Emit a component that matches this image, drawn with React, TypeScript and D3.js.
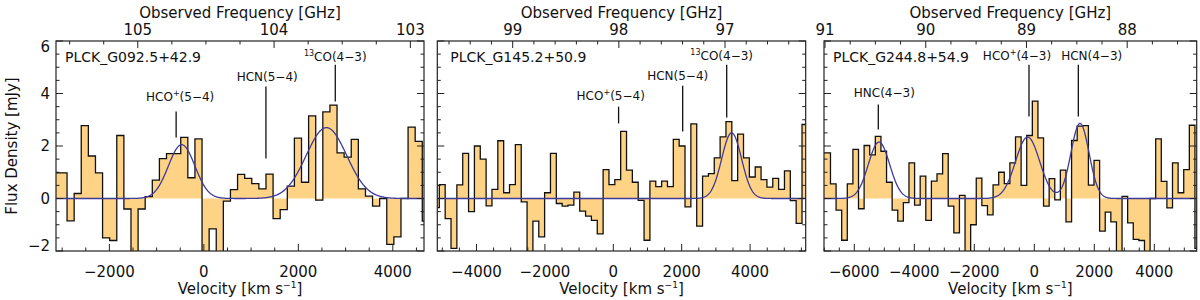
import { useEffect, useRef } from "react";
import * as d3 from "d3";

// channel flux densities (mJy), one per velocity bin, left to right
const g092Flux = [0.98, 0.98, -0.85, 0.19, 2.78, 1.62, 0.98, -1.5, -1.6, 2.4, -0.4, -2.6, -0.4, 0.07, 0.7, 1.52, 1.71, 1.71, 2.33, 0.79, 2.27, -2.6, -1.16, -2.6, -0.1, 0.34, 0.92, 0.77, 0.57, 0.37, 0.93, -0.77, -0.42, 0.47, 2.3, 0.62, 3.15, -0.06, 3.3, 3.56, 1.74, 1.58, 2.25, 0.37, 0.09, -0.29, 0.0, -1.75, -1.46, 0.0, 2.72, 2.18, -0.86];
const g092Start = -3197; // km/s, left edge of first bin
const g092Width = 150.4;

const g145Flux = [-0.35, 0.53, -0.77, -1.9, 0.52, 1.72, -0.5, 2.0, 1.5, -0.28, 0.35, 2.2, 0.22, 0.53, 2.05, -0.13, -2.3, -0.86, -1.46, 0.22, 1.72, -0.19, -0.29, -0.25, 0.24, -0.48, -0.67, -0.83, -1.35, 1.1, 0.53, 0.72, 2.56, 1.08, 0.62, -0.07, -1.59, 0.66, 0.45, 0.66, 0.45, 2.25, 2.0, -0.32, 2.84, -1.05, 0.85, 0.95, 1.55, 2.35, 2.93, 0.68, 2.45, 1.55, 0.82, 1.2, 0.72, 0.43, 0.77, 0.35, 1.05, -0.08, -0.95, 2.82];
const g145Start = -5258;
const g145Width = 171.05;

const g244Flux = [1.74, 1.74, 0.56, -0.44, -1.59, 0.56, 1.87, -0.39, 2.02, 1.66, 2.37, 1.8, 0.62, -0.44, -0.86, -0.16, 1.36, -0.25, 0.85, -0.83, 0.66, 0.94, 1.71, -0.29, -1.31, 0.12, -2.4, -1.0, 0.78, -0.27, -0.62, 0.52, 1.0, 0.57, 1.36, 2.35, 0.5, 2.4, 3.71, 2.31, -0.29, 0.76, -0.05, 1.08, -0.89, 2.21, 2.76, 2.78, 0.51, 1.45, -1.24, -0.52, -0.89, -2.4, 0.08, -0.93, -1.56, -1.6, -2.4, 0.0, 2.27, 0.65, -0.36, 1.36, 0.22, 1.1, 2.79, -1.9];
const g244Start = -7168;
const g244Width = 186.9;

const sourceNames = ["PLCK_G092.5+42.9", "PLCK_G145.2+50.9", "PLCK_G244.8+54.9"];
const velocityRanges = [[-3130, 4660], [-5146, 5626], [-7010, 5413]];
const frequencyRanges = [[105.6, 102.9], [99.71, 96.24], [91.01, 87.31]];
const fluxRange = [-2, 6];

// gaussian fits: [peak mJy, centre km/s, sigma km/s]
const g092Fit = [[2.05, -470, 280], [2.7, 2595, 430]];
const g145Fit = [[2.5, 3460, 290]];
const g244Fit = [[2.15, -5177, 354], [2.34, -223, 401], [2.86, 1523, 302]];

// line markers: label parts (text, superscript?), marker v, label v, label flux, marker top, marker bottom
type Marker = { label: [string, boolean][]; v: number; lv: number; ly: number; top: number; bot: number };
const g092Lines: Marker[] = [
  { label: [["HCO", false], ["+", true], ["(5\u22124)", false]], v: -587, lv: -502, ly: 3.7, top: 3.31, bot: 2.32 },
  { label: [["HCN(5\u22124)", false]], v: 1314, lv: 1341, ly: 4.46, top: 4.27, bot: 1.52 },
  { label: [["13", true], ["CO(4\u22123)", false]], v: 2782, lv: 2782, ly: 5.22, top: 5.1, bot: 3.7 },
];
const g145Lines: Marker[] = [
  { label: [["HCO", false], ["+", true], ["(5\u22124)", false]], v: 155, lv: -76, ly: 3.77, top: 3.5, bot: 2.86 },
  { label: [["HCN(5\u22124)", false]], v: 2029, lv: 1883, ly: 4.53, top: 4.3, bot: 2.55 },
  { label: [["13", true], ["CO(4\u22123)", false]], v: 3316, lv: 3170, ly: 5.26, top: 5.1, bot: 3.09 },
];
const g244Lines: Marker[] = [
  { label: [["HNC(4\u22123)", false]], v: -5200, lv: -5000, ly: 3.85, top: 3.58, bot: 2.63 },
  { label: [["HCO", false], ["+", true], ["(4\u22123)", false]], v: -177, lv: -577, ly: 5.26, top: 5.1, bot: 3.12 },
  { label: [["HCN(4\u22123)", false]], v: 1467, lv: 1913, ly: 5.26, top: 5.1, bot: 3.12 },
];

const FONT = "DejaVu Sans";
const FILL = "#ffd385";
const FIT = "#3d3a9a";
const TOP = 41;
const BOTTOM = 251;
const panelX = [[56, 424], [437.3, 805.7], [824, 1196.7]];
const freqMinor = [0.25, 0.2, 0.25];

const panels = [
  { flux: g092Flux, start: g092Start, width: g092Width, fit: g092Fit, lines: g092Lines },
  { flux: g145Flux, start: g145Start, width: g145Width, fit: g145Fit, lines: g145Lines },
  { flux: g244Flux, start: g244Start, width: g244Width, fit: g244Fit, lines: g244Lines },
];

const App = () => {
  const svgRef = useRef<SVGSVGElement>(null);

  useEffect(() => {
    const svg = d3.select(svgRef.current);
    svg.selectAll("*").remove();

    const y = d3.scaleLinear().domain(fluxRange).range([BOTTOM, TOP]);

    panels.forEach((p, k) => {
      const [left, right] = panelX[k];
      const x = d3.scaleLinear().domain(velocityRanges[k]).range([left, right]);
      const f = d3.scaleLinear().domain(frequencyRanges[k]).range([left, right]);

      const clipId = `clip${k}`;
      svg.append("clipPath").attr("id", clipId)
        .append("rect").attr("x", left).attr("y", TOP)
        .attr("width", right - left).attr("height", BOTTOM - TOP);

      const g = svg.append("g").attr("clip-path", `url(#${clipId})`);

      // step histogram points
      const pts: [number, number][] = [];
      p.flux.forEach((val, i) => {
        const a = p.start + i * p.width;
        pts.push([a, val], [a + p.width, val]);
      });

      g.append("path")
        .datum(pts)
        .attr("fill", FILL)
        .attr("d", d3.area<[number, number]>().x((d) => x(d[0])).y0(y(0)).y1((d) => y(d[1])));

      g.append("path")
        .datum(pts)
        .attr("fill", "none")
        .attr("stroke", "#111")
        .attr("stroke-width", 1.3)
        .attr("d", d3.line<[number, number]>().x((d) => x(d[0])).y((d) => y(d[1])));

      // gaussian model
      const vs = d3.range(velocityRanges[k][0], velocityRanges[k][1] + 10, 10);
      const model = (v: number) =>
        d3.sum(p.fit, ([a, c, s]) => a * Math.exp(-0.5 * ((v - c) / s) ** 2));
      g.append("path")
        .datum(vs)
        .attr("fill", "none")
        .attr("stroke", FIT)
        .attr("stroke-width", 1.3)
        .attr("d", d3.line<number>().x((v) => x(v)).y((v) => y(model(v))));

      // frame
      svg.append("rect")
        .attr("x", left).attr("y", TOP)
        .attr("width", right - left).attr("height", BOTTOM - TOP)
        .attr("fill", "none").attr("stroke", "#222").attr("stroke-width", 1.2);

      const ticks = svg.append("g").attr("stroke", "#222").attr("stroke-width", 1);
      const [v0, v1] = velocityRanges[k];
      // velocity ticks (bottom)
      d3.range(Math.ceil(v0 / 500) * 500, v1, 500).forEach((v) => {
        const len = v % 2000 === 0 ? 7 : 3.5;
        ticks.append("line").attr("x1", x(v)).attr("x2", x(v)).attr("y1", BOTTOM).attr("y2", BOTTOM - len);
      });
      // frequency ticks (top)
      const [fa, fb] = frequencyRanges[k];
      const step = freqMinor[k];
      d3.range(Math.ceil(fb / step) * step, fa, step).forEach((fr) => {
        const major = Math.abs(fr - Math.round(fr)) < 1e-6;
        ticks.append("line").attr("x1", f(fr)).attr("x2", f(fr)).attr("y1", TOP).attr("y2", TOP + (major ? 7 : 3.5));
      });
      // flux ticks (left and right)
      d3.range(fluxRange[0], fluxRange[1] + 0.01, 0.5).forEach((fl) => {
        const len = fl % 2 === 0 ? 7 : 3.5;
        ticks.append("line").attr("x1", left).attr("x2", left + len).attr("y1", y(fl)).attr("y2", y(fl));
        ticks.append("line").attr("x1", right).attr("x2", right - len).attr("y1", y(fl)).attr("y2", y(fl));
      });

      const text = svg.append("g").attr("font-family", FONT).attr("fill", "#111");

      // bottom tick labels
      d3.range(Math.ceil(v0 / 2000) * 2000, v1, 2000).forEach((v) => {
        text.append("text").attr("x", x(v)).attr("y", 277).attr("text-anchor", "middle")
          .attr("font-size", 15).text(d3.format("d")(v).replace("-", "\u2212"));
      });
      // top tick labels
      d3.range(Math.ceil(fb), fa + 0.001, 1).forEach((fr) => {
        text.append("text").attr("x", f(fr)).attr("y", 35).attr("text-anchor", "middle")
          .attr("font-size", 15).text(fr);
      });

      const mid = (left + right) / 2;
      text.append("text").attr("x", mid).attr("y", 18).attr("text-anchor", "middle")
        .attr("font-size", 15).text("Observed Frequency [GHz]");

      const vt = text.append("text").attr("x", mid).attr("y", 294).attr("text-anchor", "middle").attr("font-size", 15);
      vt.append("tspan").text("Velocity [km s");
      vt.append("tspan").attr("font-size", 9).attr("dy", -6).text("\u22121");
      vt.append("tspan").attr("dy", 6).text("]");

      text.append("text").attr("x", left + (k === 1 ? 13 : 9)).attr("y", 62)
        .attr("font-size", 14).text(sourceNames[k]);

      // line markers
      p.lines.forEach((m) => {
        svg.append("line").attr("x1", x(m.v)).attr("x2", x(m.v))
          .attr("y1", y(m.top)).attr("y2", y(m.bot))
          .attr("stroke", "#111").attr("stroke-width", 1.3);
        const t = text.append("text").attr("x", x(m.lv)).attr("y", y(m.ly))
          .attr("text-anchor", "middle").attr("font-size", 12);
        let shifted = false;
        m.label.forEach(([s, sup]) => {
          const span = t.append("tspan").text(s);
          if (sup) {
            span.attr("font-size", 8).attr("dy", -5);
            shifted = true;
          } else if (shifted) {
            span.attr("dy", 5);
            shifted = false;
          }
        });
      });

      if (k === 0) {
        d3.range(fluxRange[0], fluxRange[1] + 0.01, 2).forEach((fl) => {
          const cy = Math.min(Math.max(y(fl), 47), 246);
          text.append("text").attr("x", 50).attr("y", cy).attr("dy", "0.36em")
            .attr("text-anchor", "end").attr("font-size", 15)
            .text(d3.format("d")(fl).replace("-", "\u2212"));
        });
        text.append("text")
          .attr("transform", `translate(17,${(TOP + BOTTOM) / 2}) rotate(-90)`)
          .attr("text-anchor", "middle").attr("font-size", 15)
          .text("Flux Density [mJy]");
      }
    });
  }, []);

  return (
    <svg
      ref={svgRef}
      width={1200}
      height={300}
      style={{ position: "absolute", left: 0, top: 0, background: "#fff" }}
    />
  );
};

export default App;
